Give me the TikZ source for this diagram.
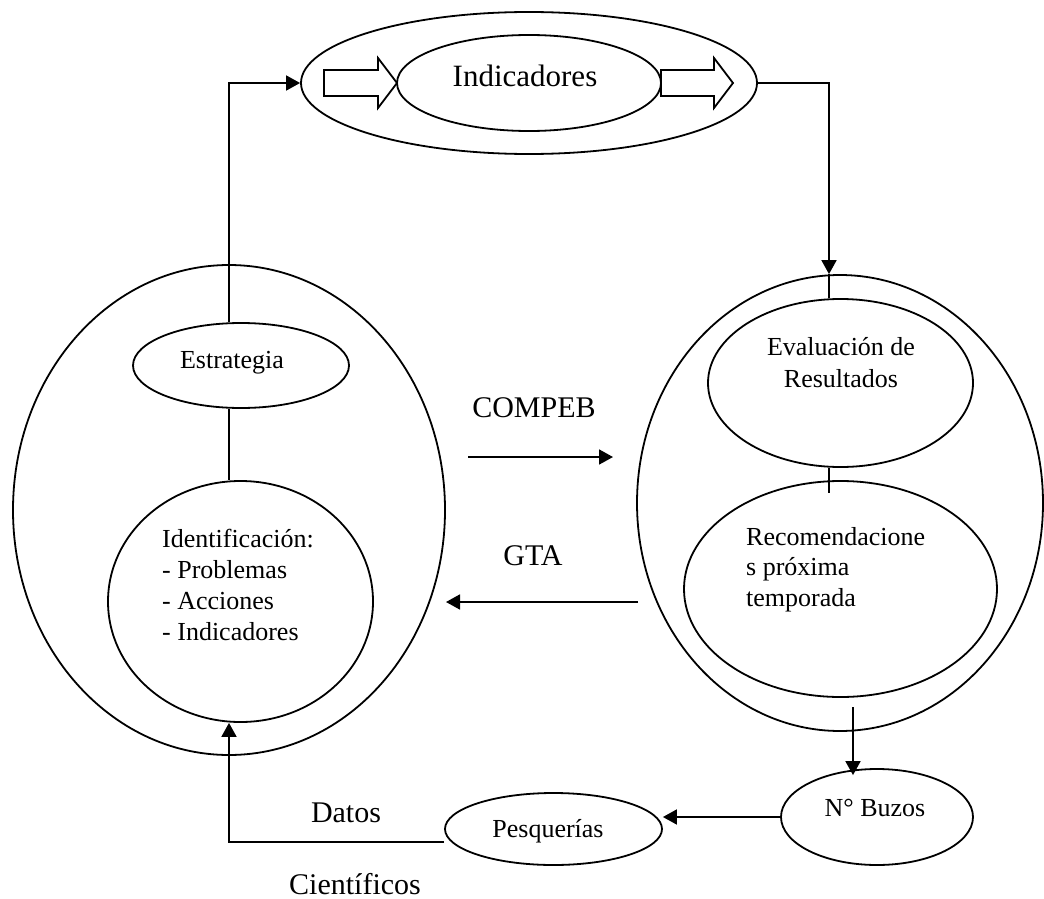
\documentclass[tikz,border=0pt]{standalone}
\usepackage{fontspec}
\setmainfont{Liberation Serif}
\usetikzlibrary{shapes.geometric,arrows.meta,calc}
\tikzset{
  ln/.style={line width=1.8pt},
  arr/.style={ln,-{Triangle[length=14pt,width=15pt]}},
  ell/.style={ellipse,draw,ln,inner sep=0pt,minimum width=#1},
  txt/.style={font=\fontsize{26}{30.7}\selectfont,inner sep=0pt},
  big/.style={font=\fontsize{30}{36}\selectfont,inner sep=0pt},
  blockarrow/.style={draw,ln,line join=miter}
}
\begin{document}
\begin{tikzpicture}[x=1pt,y=-1pt]
\useasboundingbox (0,0) rectangle (1044,899);
% top group
\node[ell=456pt,minimum height=142pt] (topout) at (529,83) {};
\node[ell=264pt,minimum height=96pt] (topin) at (529,83) {};
\node[txt,font=\fontsize{31}{36}\selectfont,anchor=base] (tind) at (525,86) {Indicadores};
\draw[blockarrow] (324,70) -- (378,70) -- (378,58) -- (397,83) -- (378,108) -- (378,96) -- (324,96) -- cycle;
\draw[blockarrow] (661,70) -- (714,70) -- (714,58) -- (733,83) -- (714,108) -- (714,96) -- (661,96) -- cycle;
% left group
\node[ell=432pt,minimum height=490pt] (lout) at (229,510) {};
\node[ell=216pt,minimum height=85pt] (est) at (241,365.5) {};
\node[txt,anchor=base] (test) at (232,368) {Estrategia};
\node[ell=265pt,minimum height=241pt] (ident) at (240.5,601.5) {};
\node[txt,anchor=base west,align=left] (tident) at (162,640) {Identificación:\\- Problemas\\- Acciones\\- Indicadores};
% right group
\node[ell=406pt,minimum height=456pt] (rout) at (840,503) {};
\node[ell=265pt,minimum height=168pt] (eval) at (840.5,383) {};
\node[txt,anchor=base,align=center,font=\fontsize{26}{32}\selectfont] (teval) at (841,387) {Evaluación de\\Resultados};
\node[ell=313pt,minimum height=216pt] (rec) at (840.5,589) {};
\node[txt,anchor=base west,align=left,font=\fontsize{26}{30.5}\selectfont] (trec) at (746,606) {Recomendacione\\s próxima\\temporada};
% bottom
\node[ell=217pt,minimum height=72pt] (pq) at (553.5,829) {};
\node[txt,anchor=base] (tpq) at (548,837) {Pesquerías};
\node[ell=192pt,minimum height=96pt] (bz) at (877,817) {};
\node[txt,anchor=base] (tbz) at (875,816) {N° Buzos};
% labels
\node[big,anchor=base] (lcompeb) at (534,417) {COMPEB};
\node[big,anchor=base] (lgta) at (533,565) {GTA};
\node[big,anchor=base] (ldatos) at (346,822) {Datos};
\node[big,anchor=base] (lcien) at (355,894) {Científicos};
% coordinates
\coordinate (lx) at (229,0);
\coordinate (rx) at (829,0);
\coordinate (c1) at (468,457);
\coordinate (c2) at (613,457);
\coordinate (g1) at (638,602);
\coordinate (g2) at (446,602);
\coordinate (b1) at (853,707);
% connectors
\draw[arr] (est.north -| lx) |- (topout.west);
\draw[ln] (est.south -| lx) -- (ident.north -| lx);
\draw[arr] (topout.east) -| (rout.north -| rx);
\draw[ln] (rout.north -| rx) -- (eval.north -| rx);
\draw[ln] (eval.south -| rx) -- ++(0,25);
\draw[arr] (c1) -- (c2);
\draw[arr] (g1) -- (g2);
\draw[arr,shorten >=-7pt] (b1) -- (bz.north -| b1);
\draw[arr] (bz.west) -- (bz.west -| pq.east);
\draw[arr] ($(pq.west)+(0,13)$) -| (ident.south -| lx);
\end{tikzpicture}
\end{document}
